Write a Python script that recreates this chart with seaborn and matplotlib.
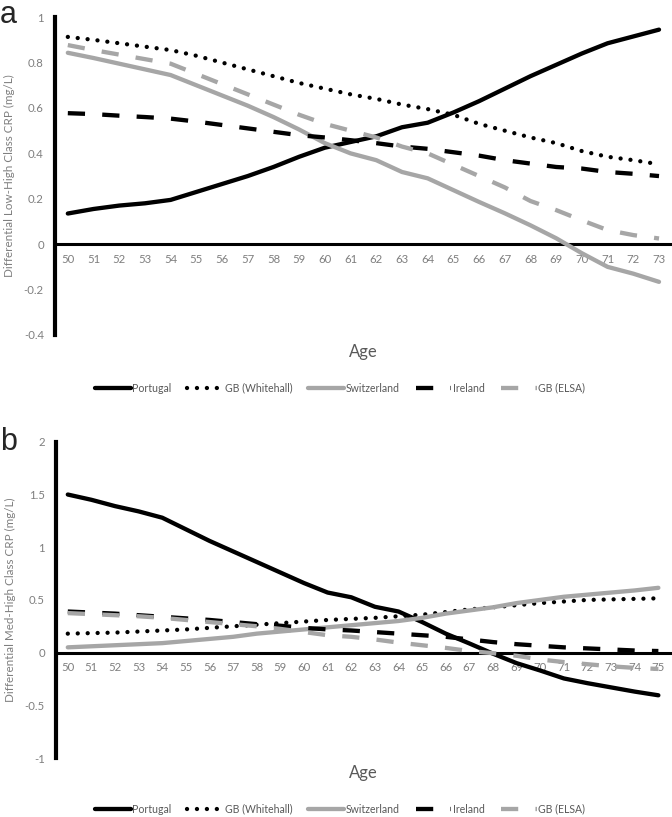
import matplotlib
matplotlib.use("Agg")
import matplotlib.pyplot as plt
import seaborn as sns

# ---- data ----
countries = ["Portugal", "GB (Whitehall)", "Switzerland", "Ireland", "GB (ELSA)"]

ages_a = list(range(50, 74))
portugal_a = [0.135, 0.155, 0.17, 0.18, 0.195, 0.23, 0.265, 0.30, 0.34, 0.385, 0.425, 0.45,
              0.475, 0.515, 0.535, 0.58, 0.63, 0.685, 0.74, 0.79, 0.84, 0.885, 0.915, 0.945]
whitehall_a = [0.913, 0.90, 0.885, 0.87, 0.855, 0.83, 0.80, 0.77, 0.74, 0.71, 0.685, 0.66,
               0.64, 0.615, 0.595, 0.57, 0.53, 0.50, 0.47, 0.445, 0.41, 0.385, 0.37, 0.352]
switzerland_a = [0.843, 0.82, 0.795, 0.77, 0.745, 0.70, 0.655, 0.61, 0.56, 0.505, 0.445, 0.40,
                 0.37, 0.318, 0.29, 0.238, 0.186, 0.136, 0.083, 0.026, -0.04, -0.10, -0.13, -0.166]
ireland_a = [0.577, 0.573, 0.566, 0.56, 0.553, 0.54, 0.525, 0.51, 0.495, 0.48, 0.47, 0.458,
             0.445, 0.43, 0.42, 0.405, 0.39, 0.37, 0.355, 0.34, 0.333, 0.318, 0.31, 0.30]
elsa_a = [0.877, 0.855, 0.835, 0.815, 0.795, 0.75, 0.705, 0.66, 0.615, 0.57, 0.53, 0.50,
          0.47, 0.43, 0.40, 0.35, 0.30, 0.25, 0.19, 0.15, 0.105, 0.062, 0.04, 0.025]

ages_b = list(range(50, 76))
portugal_b = [1.50, 1.45, 1.39, 1.34, 1.28, 1.17, 1.06, 0.96, 0.86, 0.76, 0.66, 0.57, 0.525,
              0.435, 0.39, 0.29, 0.18, 0.087, -0.01, -0.10, -0.17, -0.245, -0.29, -0.33, -0.37, -0.405]
whitehall_b = [0.18, 0.185, 0.19, 0.20, 0.21, 0.22, 0.235, 0.25, 0.265, 0.28, 0.295, 0.31, 0.32,
               0.33, 0.345, 0.36, 0.385, 0.41, 0.43, 0.45, 0.47, 0.485, 0.50, 0.505, 0.51, 0.515]
switzerland_b = [0.05, 0.06, 0.07, 0.08, 0.09, 0.11, 0.13, 0.15, 0.18, 0.20, 0.22, 0.24, 0.26,
                 0.28, 0.30, 0.33, 0.37, 0.40, 0.43, 0.47, 0.50, 0.53, 0.55, 0.57, 0.59, 0.615]
ireland_b = [0.39, 0.38, 0.37, 0.355, 0.34, 0.325, 0.31, 0.29, 0.27, 0.255, 0.235, 0.22, 0.21,
             0.195, 0.18, 0.165, 0.15, 0.125, 0.10, 0.08, 0.065, 0.05, 0.04, 0.03, 0.02, 0.015]
elsa_b = [0.375, 0.365, 0.355, 0.345, 0.33, 0.31, 0.29, 0.27, 0.25, 0.225, 0.195, 0.165, 0.15,
          0.125, 0.095, 0.07, 0.045, 0.015, -0.005, -0.03, -0.065, -0.09, -0.11, -0.13, -0.145, -0.155]

yticks_a = [-0.4, -0.2, 0, 0.2, 0.4, 0.6, 0.8, 1]
yticklabels_a = ["-0.4", "-0.2", "0", "0.2", "0.4", "0.6", "0.8", "1"]
yticks_b = [-1, -0.5, 0, 0.5, 1, 1.5, 2]
yticklabels_b = ["-1", "-0.5", "0", "0.5", "1", "1.5", "2"]

# ---- styling ----
sns.set_style("white")
plt.rcParams["font.family"] = ["Lato", "DejaVu Sans"]

BLACK = "#000000"
GREY = "#A6A6A6"
TEXT = "#7F7F7F"
LW = 3.1
styles = {
    "Portugal": dict(color=BLACK, linestyle="-", solid_capstyle="round"),
    "GB (Whitehall)": dict(color=BLACK, linestyle=(0, (0.01, 2.3)), dash_capstyle="round"),
    "Switzerland": dict(color=GREY, linestyle="-", solid_capstyle="round"),
    "Ireland": dict(color=BLACK, linestyle=(0, (4.0, 4.0)), dash_capstyle="butt"),
    "GB (ELSA)": dict(color=GREY, linestyle=(0, (4.0, 4.0)), dash_capstyle="butt"),
}


def draw_panel(ax, ages, series, ylim, yticks, yticklabels, ylabel):
    for name, vals in zip(countries, series):
        sns.lineplot(x=ages, y=vals, ax=ax, label=name, linewidth=LW, zorder=3,
                     **styles[name])
    ax.set_xlim(ages[0] - 0.5, ages[-1] + 0.5)
    ax.set_ylim(*ylim)
    ax.set_xticks(ages)
    ax.set_xticklabels([str(a) for a in ages])
    ax.set_yticks(yticks)
    ax.set_yticklabels(yticklabels)
    for s in ("top", "right"):
        ax.spines[s].set_visible(False)
    ax.spines["left"].set_linewidth(3.0)
    ax.spines["left"].set_color(BLACK)
    ax.spines["bottom"].set_position(("data", 0))
    ax.spines["bottom"].set_linewidth(2.2)
    ax.spines["bottom"].set_color(BLACK)
    ax.spines["bottom"].set_zorder(2)
    ax.tick_params(axis="both", length=0, labelsize=8.2, labelcolor=TEXT)
    ax.tick_params(axis="y", pad=8)
    ax.tick_params(axis="x", pad=7)
    ax.set_ylabel(ylabel, fontsize=8.4, color=TEXT)
    ax.yaxis.set_label_coords(-0.065, 0.5)
    ax.set_xlabel("Age", fontsize=12, color="#595959")
    ax.xaxis.label.set_va("center")
    ax.get_legend().remove()
    ax.grid(False)
    ax.set_facecolor("white")


fig = plt.figure(figsize=(6.72, 8.17), dpi=100)
ax_a = fig.add_axes([0.0818, 0.590, 0.918, 0.389])
ax_b = fig.add_axes([0.0833, 0.0722, 0.914, 0.387])

draw_panel(ax_a, ages_a, [portugal_a, whitehall_a, switzerland_a, ireland_a, elsa_a],
           (-0.4, 1), yticks_a, yticklabels_a, "Differential Low-High Class CRP (mg/L)")
ax_a.xaxis.set_label_coords(0.5, -0.053)

draw_panel(ax_b, ages_b, [portugal_b, whitehall_b, switzerland_b, ireland_b, elsa_b],
           (-1, 2), yticks_b, yticklabels_b, "Differential Med-High Class CRP (mg/L)")
ax_b.xaxis.set_label_coords(0.5, -0.048)

for ax, ypos in ((ax_a, 0.525), (ax_b, 0.0095)):
    handles, labels = ax.get_legend_handles_labels()
    leg = fig.legend(handles, labels, loc="center", bbox_to_anchor=(0.506, ypos),
                     bbox_transform=fig.transFigure, ncol=5, frameon=False, fontsize=7.6,
                     handlelength=3.4, handletextpad=0.15, columnspacing=1.5,
                     borderpad=0.2)
    for t in leg.get_texts():
        t.set_color("#595959")

fig.text(0.0, 0.972, "a", fontsize=22, family="Liberation Sans", ha="left", va="baseline")
fig.text(0.0, 0.449, "b", fontsize=22, family="Liberation Sans", ha="left", va="baseline")

fig.savefig("out.png", dpi=100, facecolor="white")
